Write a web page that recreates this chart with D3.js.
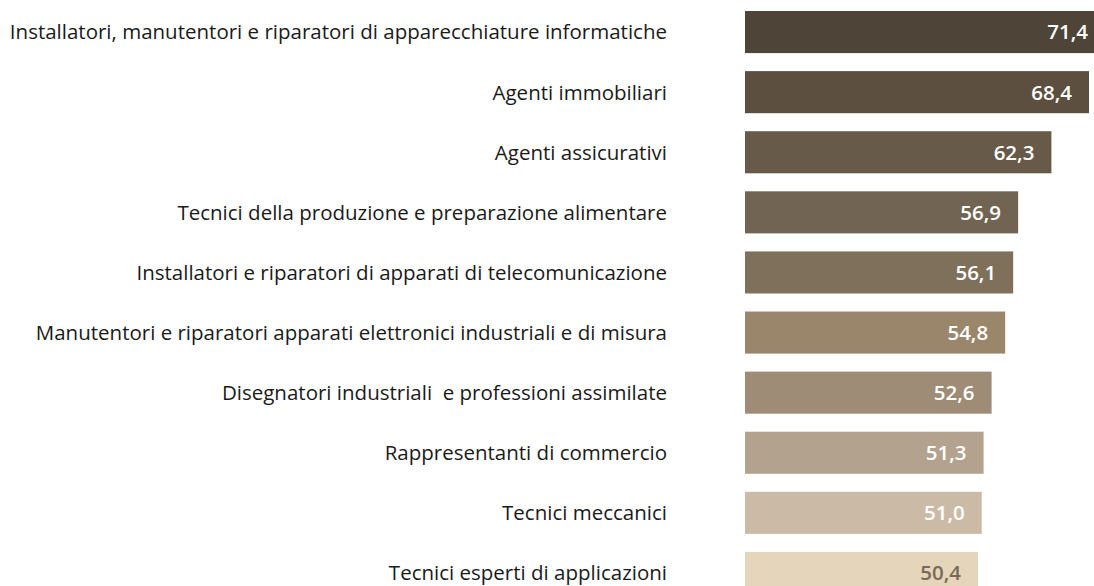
<!DOCTYPE html>
<html>
<head>
<meta charset="utf-8">
<script src="https://cdn.jsdelivr.net/npm/d3@7"></script>
<style>
  html, body { margin: 0; padding: 0; background: #fff; }
  svg { display: block; }
  text { white-space: pre; }
</style>
</head>
<body>
<svg id="chart" width="1094" height="586"></svg>
<script>
const categories = [
  "Installatori, manutentori e riparatori di apparecchiature informatiche",
  "Agenti immobiliari",
  "Agenti assicurativi",
  "Tecnici della produzione e preparazione alimentare",
  "Installatori e riparatori di apparati di telecomunicazione",
  "Manutentori e riparatori apparati elettronici industriali e di misura",
  "Disegnatori industriali  e professioni assimilate",
  "Rappresentanti di commercio",
  "Tecnici meccanici",
  "Tecnici esperti di applicazioni"
];
const values = [71.4, 68.4, 62.3, 56.9, 56.1, 54.8, 52.6, 51.3, 51.0, 50.4];
const colors = ["#4e4437", "#5c4f40", "#675a48", "#716452", "#7e705b", "#9a866b", "#9e8c77", "#b3a28d", "#cbbba6", "#e5d5bb"];
const labelColors = ["#fff", "#fff", "#fff", "#fff", "#fff", "#fff", "#fff", "#fff", "#fff", "#7a6a55"];

const svg = d3.select("#chart");
const font = "'Open Sans', 'Noto Sans', sans-serif";

const x = d3.scaleLinear().domain([12.6, 68.4]).range([745, 1089]);
const y = d3.scaleBand().domain(categories).range([2, 603]).paddingInner(0.3).paddingOuter(0.15);

svg.selectAll("rect.bar")
  .data(categories)
  .join("rect")
  .attr("class", "bar")
  .attr("x", x(12.6))
  .attr("y", d => y(d))
  .attr("width", (d, i) => x(values[i]) - x(12.6))
  .attr("height", y.bandwidth())
  .attr("fill", (d, i) => colors[i]);

svg.selectAll("text.val")
  .data(categories)
  .join("text")
  .attr("class", "val")
  .attr("x", (d, i) => Math.min(x(values[i]), 1105) - 17)
  .attr("y", d => y(d) + y.bandwidth() / 2)
  .attr("dy", "0.36em")
  .attr("text-anchor", "end")
  .attr("font-family", font)
  .attr("font-weight", 600)
  .attr("font-size", 20.5)
  .attr("fill", (d, i) => labelColors[i])
  .text((d, i) => d3.format(".1f")(values[i]).replace(".", ","));

svg.selectAll("text.cat")
  .data(categories)
  .join("text")
  .attr("class", "cat")
  .attr("x", 667)
  .attr("y", d => y(d) + y.bandwidth() / 2)
  .attr("dy", "0.36em")
  .attr("text-anchor", "end")
  .attr("font-family", font)
  .attr("font-size", 20.5)
  .attr("fill", "#1a1a1a")
  .text(d => d);
</script>
</body>
</html>
